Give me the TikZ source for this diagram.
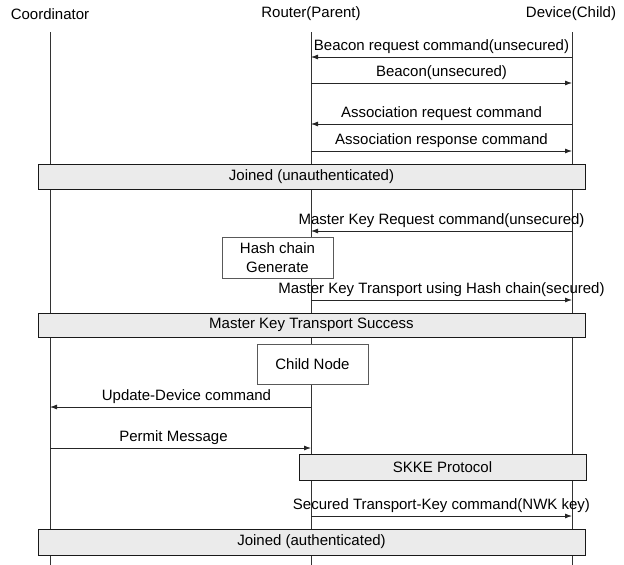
\documentclass[tikz,border=0pt]{standalone}
\usepackage{fontspec}
\setmainfont{Liberation Sans}
\usetikzlibrary{arrows.meta}
\begin{document}
\begin{tikzpicture}[x=1pt,y=-1pt,
  every node/.style={font=\fontsize{15}{19}\selectfont},
  life/.style={draw=black!80, line width=0.8pt},
  msg/.style={draw=black!85, line width=0.8pt, -{Latex[length=7pt,width=5pt]}},
  lbl/.style={inner sep=0pt, text height=11pt, text depth=3pt, above=3pt},
  bar/.style={draw=black!90, line width=1pt, fill=black!8, inner sep=0pt},
  procbox/.style={draw=black!65, line width=0.6pt, fill=white, align=center, inner sep=0pt},
  head/.style={inner sep=0pt}]
\useasboundingbox (0,0) rectangle (624,565);
% headers
\node[head] (hc) at (50,14) {Coordinator};
\node[head] (hr) at (311,14) {Router(Parent)};
\node[head] (hd) at (571,14) {Device(Child)};
% lifelines
\coordinate (cT) at (50,32);  \coordinate (cB) at (50,565);
\coordinate (rT) at (311,32); \coordinate (rB) at (311,565);
\coordinate (dT) at (572,32); \coordinate (dB) at (572,565);
\draw[life] (cT) -- (cB);
\draw[life] (rT) -- (rB);
\draw[life] (dT) -- (dB);
% message end points
\coordinate (r1) at (311,57);  \coordinate (d1) at (572,57);
\coordinate (r2) at (311,83);  \coordinate (d2) at (572,83);
\coordinate (r3) at (311,124); \coordinate (d3) at (572,124);
\coordinate (r4) at (311,151); \coordinate (d4) at (572,151);
\coordinate (r5) at (311,231); \coordinate (d5) at (572,231);
\coordinate (r6) at (311,300); \coordinate (d6) at (572,300);
\coordinate (r7) at (311,407); \coordinate (c7) at (50,407);
\coordinate (r8) at (311,448); \coordinate (c8) at (50,448);
\coordinate (r9) at (311,516); \coordinate (d9) at (572,516);
% bars and boxes
\node[bar, minimum width=547pt, minimum height=25pt] (b1) at (311.5,176.5) {Joined (unauthenticated)};
\node[procbox, minimum width=111pt, minimum height=41pt] (hash) at (277.5,257.5) {Hash chain\\Generate};
\node[bar, minimum width=547pt, minimum height=24pt] (b2) at (311.5,325) {Master Key Transport Success};
\node[procbox, minimum width=111pt, minimum height=40pt] (child) at (312.5,364) {Child Node};
\node[bar, minimum width=287pt, minimum height=26pt] (b3) at (442.5,467) {SKKE Protocol};
\node[bar, minimum width=547pt, minimum height=26pt] (b4) at (311.5,542) {Joined (authenticated)};
% messages
\draw[msg] (d1) -- node[lbl, name=m1] {Beacon request command(unsecured)} (r1);
\draw[msg] (r2) -- node[lbl, name=m2] {Beacon(unsecured)} (d2);
\draw[msg] (d3) -- node[lbl, name=m3] {Association request command} (r3);
\draw[msg] (r4) -- node[lbl, name=m4] {Association response command} (d4);
\draw[msg] (d5) -- node[lbl, name=m5] {Master Key Request command(unsecured)} (r5);
\draw[msg] (r6) -- node[lbl, name=m6] {Master Key Transport using Hash chain(secured)} (d6);
\draw[msg] (r7) -- node[lbl, name=m7, xshift=6pt] {Update-Device command} (c7);
\draw[msg] (c8) -- node[lbl, name=m8, xshift=-7pt] {Permit Message} (r8);
\draw[msg] (r9) -- node[lbl, name=m9] {Secured Transport-Key command(NWK key)} (d9);
\end{tikzpicture}
\end{document}
